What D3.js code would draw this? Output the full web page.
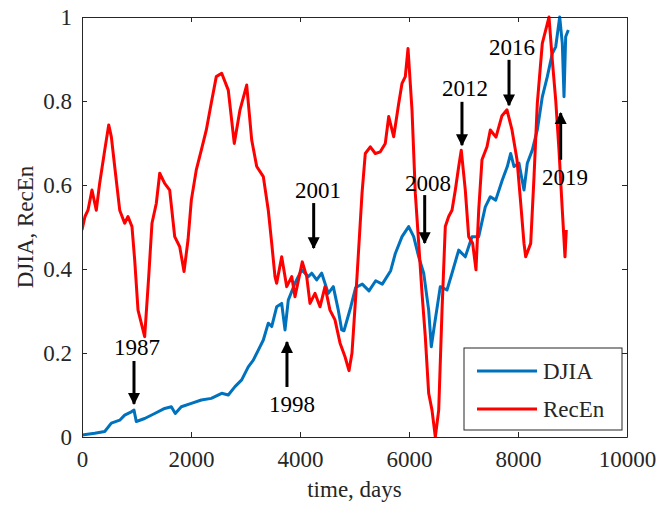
<!DOCTYPE html>
<html>
<head>
<meta charset="utf-8">
<script src="https://cdn.jsdelivr.net/npm/d3@7"></script>
<style>
  body { margin: 0; background: #fff; }
  svg text { font-family: "Liberation Serif", "Times New Roman", serif; fill: #262626; }
</style>
</head>
<body>
<script>
// DJIA, normalised (day, value)
var djiaDays = [0,233,417,538,692,783,905,954,996,1150,1334,1517,1639,1712,1822,2006,2189,2372,2563,2684,2807,2930,3051,3143,3235,3327,3418,3481,3572,3664,3725,3785,3908,4031,4152,4215,4306,4398,4519,4611,4703,4765,4807,4930,5022,5143,5266,5389,5510,5664,5749,5872,5994,6086,6178,6270,6361,6409,6472,6574,6697,6789,6912,7033,7156,7279,7400,7492,7591,7712,7804,7866,7927,8018,8110,8171,8262,8354,8446,8538,8629,8692,8765,8813,8844,8875,8923];
var djiaVals = [0.005,0.009,0.013,0.033,0.040,0.052,0.060,0.064,0.037,0.044,0.056,0.068,0.072,0.056,0.072,0.080,0.088,0.092,0.104,0.100,0.120,0.136,0.167,0.183,0.207,0.231,0.271,0.263,0.310,0.318,0.255,0.326,0.366,0.398,0.382,0.390,0.374,0.390,0.342,0.358,0.302,0.255,0.253,0.309,0.356,0.364,0.348,0.372,0.364,0.396,0.437,0.477,0.501,0.477,0.429,0.390,0.302,0.215,0.271,0.358,0.350,0.390,0.445,0.429,0.477,0.477,0.548,0.572,0.564,0.612,0.644,0.675,0.644,0.652,0.588,0.652,0.683,0.731,0.810,0.858,0.913,0.929,1.0,0.937,0.810,0.953,0.969];

// Recurrence entropy, normalised (day, value)
var recDays = [0,55,110,183,262,325,417,490,538,600,692,783,844,917,967,1028,1088,1150,1224,1284,1363,1426,1517,1609,1701,1793,1872,1945,2006,2097,2189,2281,2372,2464,2563,2684,2794,2899,3022,3114,3206,3327,3418,3481,3541,3572,3664,3756,3848,3908,4042,4123,4183,4275,4367,4459,4550,4642,4734,4826,4899,4954,5046,5138,5198,5290,5382,5473,5565,5628,5719,5811,5872,5932,5982,6055,6116,6178,6239,6299,6361,6422,6483,6545,6606,6666,6728,6789,6850,6912,6959,7033,7095,7168,7229,7279,7339,7431,7492,7596,7706,7798,7890,7982,8050,8110,8141,8233,8294,8354,8446,8569,8629,8692,8752,8813,8862,8886];
var recVals = [0.493,0.525,0.540,0.588,0.540,0.605,0.683,0.743,0.715,0.644,0.540,0.509,0.525,0.501,0.421,0.302,0.271,0.239,0.382,0.509,0.556,0.628,0.604,0.588,0.477,0.453,0.394,0.469,0.564,0.636,0.683,0.731,0.795,0.858,0.866,0.826,0.699,0.779,0.838,0.707,0.644,0.620,0.540,0.461,0.382,0.366,0.429,0.358,0.382,0.334,0.417,0.382,0.318,0.342,0.310,0.358,0.302,0.279,0.224,0.191,0.158,0.200,0.382,0.580,0.675,0.691,0.675,0.679,0.699,0.763,0.715,0.794,0.842,0.858,0.925,0.779,0.580,0.461,0.342,0.239,0.104,0.064,0.0,0.064,0.302,0.501,0.525,0.540,0.588,0.644,0.683,0.588,0.477,0.461,0.398,0.540,0.660,0.691,0.731,0.714,0.765,0.779,0.731,0.660,0.556,0.461,0.429,0.461,0.620,0.794,0.937,1.0,0.898,0.802,0.683,0.540,0.429,0.493];

var xTicks = [0, 2000, 4000, 6000, 8000, 10000];
var yTicks = [0, 0.2, 0.4, 0.6, 0.8, 1];

// year annotations: label position and arrow (tail -> head), in data units
var noteLabels = ["1987", "1998", "2001", "2008", "2012", "2016", "2019"];
var noteTextX = [1009, 3853, 4330, 6349, 7028, 7890, 8862];
var noteTextY = [0.214, 0.079, 0.588, 0.605, 0.831, 0.929, 0.619];
var arrowX = [954, 3761, 4251, 6288, 6972, 7835, 8783];
var arrowFrom = [0.181, 0.119, 0.557, 0.576, 0.798, 0.898, 0.660];
var arrowTo = [0.079, 0.226, 0.450, 0.462, 0.695, 0.790, 0.771];

var seriesNames = ["DJIA", "RecEn"];
var seriesColors = ["#0072BD", "#FF0000"];

var width = 659, height = 508;
var margin = {left: 82, top: 17, right: 32, bottom: 71};
var w = width - margin.left - margin.right,
    h = height - margin.top - margin.bottom;

var svg = d3.select("body").append("svg")
    .attr("width", width)
    .attr("height", height);

var x = d3.scaleLinear().domain([0, 10000]).range([margin.left, margin.left + w]);
var y = d3.scaleLinear().domain([0, 1]).range([margin.top + h, margin.top]);

//data lines, clipped to the axes box
svg.append("clipPath").attr("id", "clip")
  .append("rect")
    .attr("x", margin.left).attr("y", margin.top - 2)
    .attr("width", w).attr("height", h + 2);

var line = d3.line()
    .x(function(d){ return x(d[0]); })
    .y(function(d){ return y(d[1]); });

var djia = d3.zip(djiaDays, djiaVals),
    rec = d3.zip(recDays, recVals);

svg.append("path")
    .datum(djia)
    .attr("clip-path", "url(#clip)")
    .attr("fill", "none")
    .attr("stroke", seriesColors[0])
    .attr("stroke-width", 3)
    .attr("stroke-linejoin", "round")
    .attr("d", line);

svg.append("path")
    .datum(rec)
    .attr("clip-path", "url(#clip)")
    .attr("fill", "none")
    .attr("stroke", seriesColors[1])
    .attr("stroke-width", 3)
    .attr("stroke-linejoin", "round")
    .attr("d", line);

//axes (matlab style box, ticks pointing in)
var fmtY = function(d){ return d === 0 || d === 1 ? String(d) : d3.format(".1f")(d); };

var gx = svg.append("g")
    .attr("transform", "translate(0," + (margin.top + h) + ")")
    .call(d3.axisBottom(x).tickValues(xTicks).tickSize(-5).tickSizeOuter(0).tickPadding(14).tickFormat(d3.format("d")));
var gy = svg.append("g")
    .attr("transform", "translate(" + margin.left + ",0)")
    .call(d3.axisLeft(y).tickValues(yTicks).tickSize(-5).tickSizeOuter(0).tickPadding(10).tickFormat(fmtY));
var gt = svg.append("g")
    .attr("transform", "translate(0," + margin.top + ")")
    .call(d3.axisTop(x).tickValues(xTicks).tickSize(-5).tickSizeOuter(0).tickFormat(""));
var gr = svg.append("g")
    .attr("transform", "translate(" + (margin.left + w) + ",0)")
    .call(d3.axisRight(y).tickValues(yTicks).tickSize(-5).tickSizeOuter(0).tickFormat(""));

[gx, gy, gt, gr].forEach(function(g){
    g.selectAll("path, line").attr("stroke", "#262626");
    g.selectAll("text").style("font-size", "23px").attr("fill", "#262626");
});

svg.append("text")
    .attr("x", margin.left + w / 2)
    .attr("y", 497)
    .attr("text-anchor", "middle")
    .style("font-size", "23px")
    .text("time, days");

svg.append("text")
    .attr("transform", "translate(33," + (margin.top + h / 2) + ") rotate(-90)")
    .attr("text-anchor", "middle")
    .style("font-size", "23px")
    .text("DJIA, RecEn");

//year annotations
svg.append("defs").append("marker")
    .attr("id", "head")
    .attr("viewBox", "0 0 10 10")
    .attr("refX", 9).attr("refY", 5)
    .attr("markerWidth", 4).attr("markerHeight", 4.5)
    .attr("markerUnits", "strokeWidth")
    .attr("orient", "auto")
  .append("path")
    .attr("d", "M0,0L10,5L0,10Z")
    .attr("fill", "#000");

noteLabels.forEach(function(lab, i){
    svg.append("line")
        .attr("x1", x(arrowX[i])).attr("x2", x(arrowX[i]))
        .attr("y1", y(arrowFrom[i])).attr("y2", y(arrowTo[i]))
        .attr("stroke", "#000")
        .attr("stroke-width", 3)
        .attr("marker-end", "url(#head)");
    svg.append("text")
        .attr("x", x(noteTextX[i]))
        .attr("y", y(noteTextY[i]))
        .attr("dy", "0.35em")
        .attr("text-anchor", "middle")
        .style("font-size", "23px")
        .style("fill", "#000")
        .text(lab);
});

//legend
var lg = svg.append("g");
lg.append("rect")
    .attr("x", 464).attr("y", 348)
    .attr("width", 158).attr("height", 82)
    .attr("fill", "#fff")
    .attr("stroke", "#262626");
seriesNames.forEach(function(name, i){
    var yy = 371 + i * 38;
    lg.append("line")
        .attr("x1", 477).attr("x2", 537)
        .attr("y1", yy).attr("y2", yy)
        .attr("stroke", seriesColors[i])
        .attr("stroke-width", 3);
    lg.append("text")
        .attr("x", 543).attr("y", yy)
        .attr("dy", "0.35em")
        .style("font-size", "23px")
        .text(name);
});
</script>
</body>
</html>
